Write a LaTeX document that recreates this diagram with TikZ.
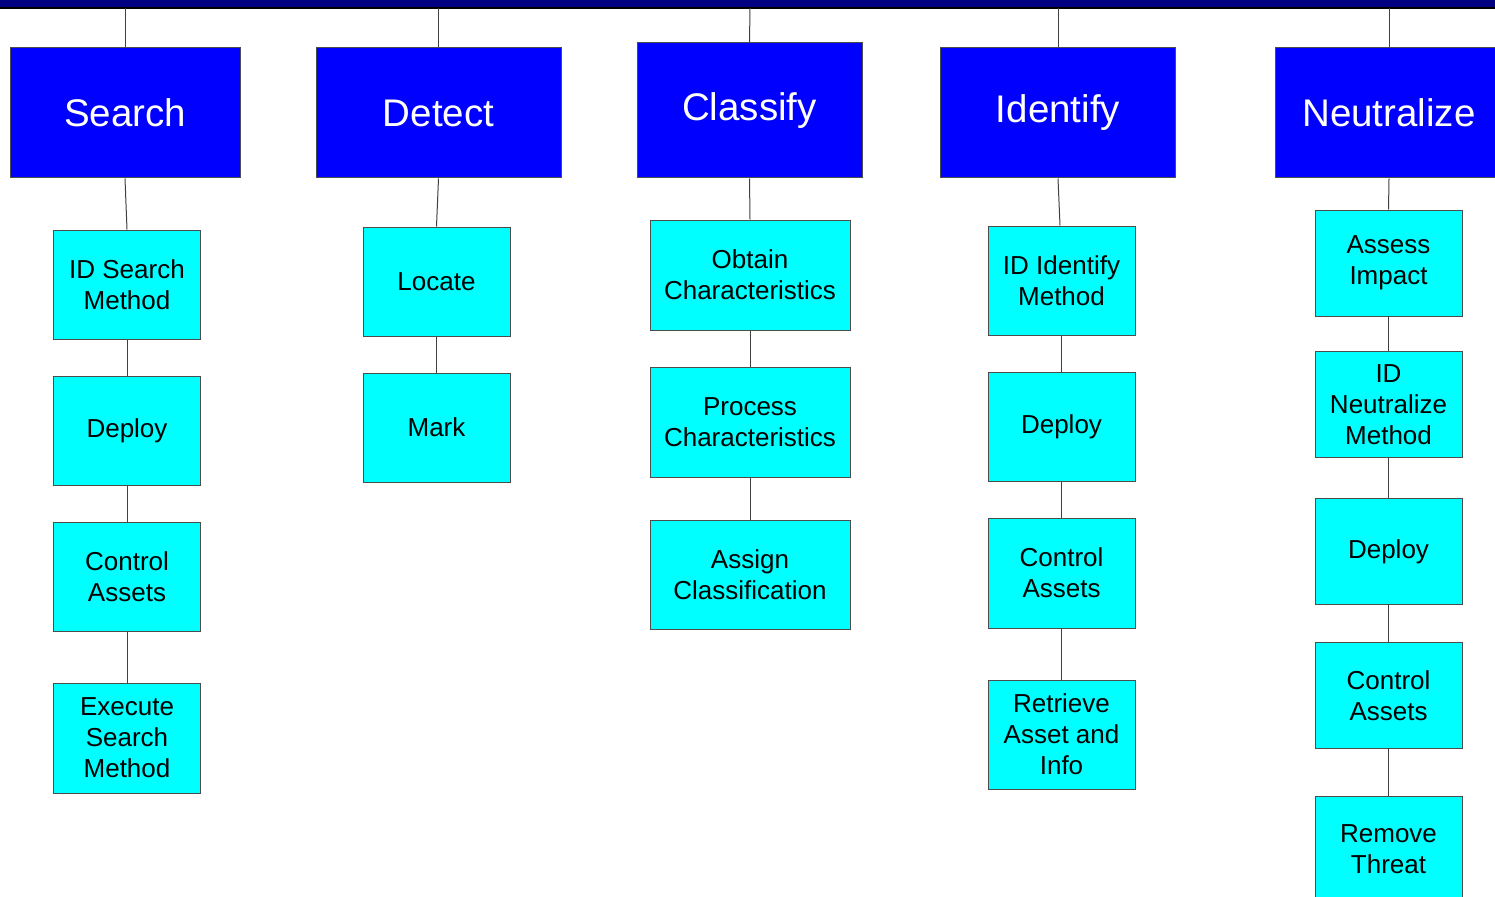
\documentclass[tikz,border=0pt]{standalone}
\usepackage{fontspec}
\setmainfont{Liberation Sans}
\definecolor{headblue}{RGB}{0,0,255}
\definecolor{taskcyan}{RGB}{0,255,255}
\definecolor{barnavy}{RGB}{0,0,128}
\begin{document}
\begin{tikzpicture}[x=1pt,y=-1pt,
  head/.style={draw=black!70, line width=1pt, fill=headblue, text=white,
    font=\fontsize{38.5}{46}\selectfont, inner sep=0pt, minimum height=130pt},
  task/.style={draw=black!70, line width=1pt, fill=taskcyan, text=black,
    font=\fontsize{26}{31}\selectfont, align=center, inner sep=0pt,
    minimum width=147pt, minimum height=109pt},
  link/.style={draw=black!75, line width=1pt}]
\clip (0,0) rectangle (1495,896);
\fill[white] (0,0) rectangle (1495,896);

% title bar along the top edge
\fill[barnavy] (0,0) rectangle (1495,8);
\draw[line width=1.5pt] (0,8) -- (1495,8);

% drop points on the bar
\coordinate (b1) at (125,8);
\coordinate (b2) at (438.5,8);
\coordinate (b3) at (750,8);
\coordinate (b4) at (1058,8);
\coordinate (b5) at (1389,8);

% phase headers
\node[head, minimum width=230pt] (search) at (125,113) {Search};
\node[head, minimum width=245pt] (detect) at (438.5,113) {Detect};
\node[head, minimum width=225pt, minimum height=135pt] (classify) at (749.5,110.5) {Classify};
\node[head, minimum width=235pt] (identify) at (1058,113) {Identify};
\node[head, minimum width=228pt] (neutral) at (1389,113) {Neutralize};

% Search column
\node[task] (s1) at (127,284.5) {ID Search\\Method};
\node[task] (s2) at (127,430.5) {Deploy};
\node[task] (s3) at (127,576.5) {Control\\Assets};
\node[task, minimum height=110pt] (s4) at (127,738) {Execute\\Search\\Method};

% Detect column
\node[task] (d1) at (436.5,281.5) {Locate};
\node[task] (d2) at (436.5,427.5) {Mark};

% Classify column
\node[task, minimum width=200pt, minimum height=110pt] (c1) at (750,275) {Obtain\\Characteristics};
\node[task, minimum width=200pt, minimum height=110pt] (c2) at (750,422) {Process\\Characteristics};
\node[task, minimum width=200pt] (c3) at (750,574.5) {Assign\\Classification};

% Identify column
\node[task] (i1) at (1061.5,280.5) {ID Identify\\Method};
\node[task] (i2) at (1061.5,426.5) {Deploy};
\node[task, minimum height=110pt] (i3) at (1061.5,573) {Control\\Assets};
\node[task] (i4) at (1061.5,734.5) {Retrieve\\Asset and\\Info};

% Neutralize column
\node[task, minimum height=106pt] (n1) at (1388.5,263) {Assess\\Impact};
\node[task, minimum height=106pt] (n2) at (1388.5,404.5) {ID\\Neutralize\\Method};
\node[task, minimum height=106pt] (n3) at (1388.5,551.5) {Deploy};
\node[task, minimum height=106pt] (n4) at (1388.5,695.5) {Control\\Assets};
\node[task, minimum height=106pt] (n5) at (1388.5,849) {Remove\\Threat};

% connectors
\draw[link] (b1) -- (search.north);
\draw[link] (b2) -- (detect.north);
\draw[link] (b3) -- (classify.north);
\draw[link] (b4) -- (identify.north);
\draw[link] (b5) -- (neutral.north);

\draw[link] (search.south) -- (s1.north);
\draw[link] (s1.south) -- (s2.north);
\draw[link] (s2.south) -- (s3.north);
\draw[link] (s3.south) -- (s4.north);

\draw[link] (detect.south) -- (d1.north);
\draw[link] (d1.south) -- (d2.north);

\draw[link] (classify.south) -- (c1.north);
\draw[link] (c1.south) -- (c2.north);
\draw[link] (c2.south) -- (c3.north);

\draw[link] (identify.south) -- ([xshift=-1.5pt]i1.north);
\draw[link] (i1.south) -- (i2.north);
\draw[link] (i2.south) -- (i3.north);
\draw[link] (i3.south) -- (i4.north);

\draw[link] (neutral.south) -- (n1.north);
\draw[link] (n1.south) -- (n2.north);
\draw[link] (n2.south) -- (n3.north);
\draw[link] (n3.south) -- (n4.north);
\draw[link] (n4.south) -- (n5.north);
\end{tikzpicture}
\end{document}
